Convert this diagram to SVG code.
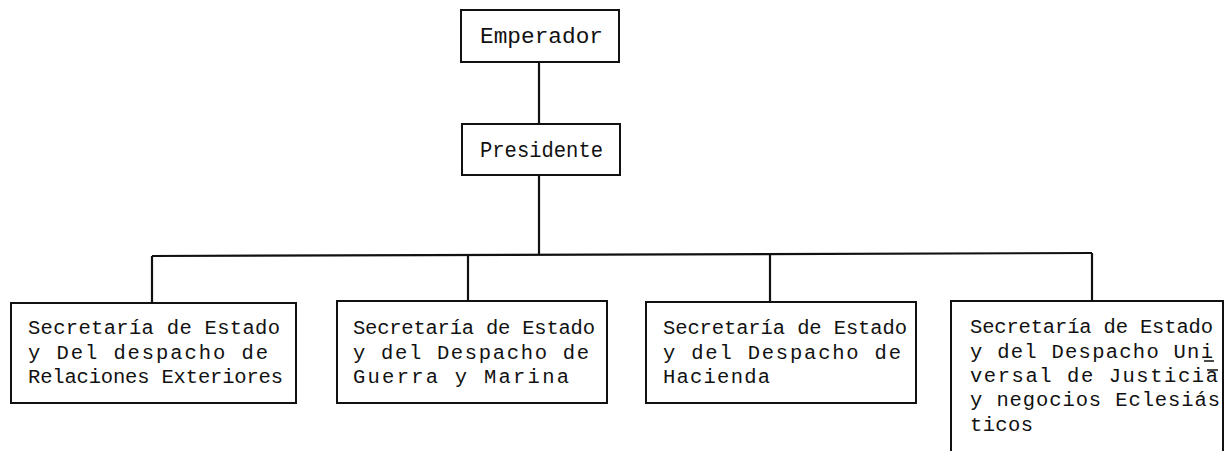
<svg xmlns="http://www.w3.org/2000/svg" width="1228" height="451" viewBox="0 0 1228 451">
<style>
.box{fill:#fff;stroke:#111;stroke-width:2}
.t{font-family:"Liberation Mono","DejaVu Sans Mono",monospace;font-size:20.5px;fill:#111}
.tt{font-family:"Liberation Mono","DejaVu Sans Mono",monospace;font-size:22.5px;fill:#111}
.c{stroke:#111;stroke-width:2.2;fill:none}
.m{stroke:#111;stroke-width:1.6}
</style>
<rect width="1228" height="451" fill="#fff"/>
<g id="connectors">
<path class="c" d="M539 62V124"/>
<path class="c" d="M539 175V254"/>
<path class="c" d="M152 256L1092 253"/>
<path class="c" d="M152 256V303"/>
<path class="c" d="M468 255V301"/>
<path class="c" d="M770 254V302"/>
<path class="c" d="M1092 253V301"/>
</g>
<g id="emperador">
<rect class="box" x="461" y="10" width="158" height="52"/>
<text class="tt" x="480" y="43" textLength="123" lengthAdjust="spacingAndGlyphs">Emperador</text>
</g>
<g id="presidente">
<rect class="box" x="462" y="124" width="158" height="51"/>
<text class="tt" x="480" y="157" textLength="123" lengthAdjust="spacingAndGlyphs">Presidente</text>
</g>
<g id="relaciones">
<rect class="box" x="11" y="303" width="285" height="100"/>
<text class="t" x="28" y="334" textLength="252">Secretaría de Estado</text>
<text class="t" x="28" y="359" textLength="240">y Del despacho de</text>
<text class="t" x="28" y="383" textLength="255">Relaciones Exteriores</text>
</g>
<g id="guerra">
<rect class="box" x="337" y="301" width="270" height="102"/>
<text class="t" x="353" y="334" textLength="242">Secretaría de Estado</text>
<text class="t" x="353" y="359" textLength="236">y del Despacho de</text>
<text class="t" x="353" y="383" textLength="216">Guerra y Marina</text>
</g>
<g id="hacienda">
<rect class="box" x="646" y="302" width="270" height="101"/>
<text class="t" x="663" y="334" textLength="244">Secretaría de Estado</text>
<text class="t" x="663" y="359" textLength="238">y del Despacho de</text>
<text class="t" x="663" y="383" textLength="107">Hacienda</text>
</g>
<g id="justicia">
<rect class="box" x="951" y="301" width="272" height="160"/>
<text class="t" x="970" y="333" textLength="243">Secretaría de Estado</text>
<text class="t" x="970" y="358" textLength="243">y del Despacho Uni</text>
<text class="t" x="970" y="382" textLength="248">versal de Justicia</text>
<text class="t" x="970" y="406" textLength="250">y negocios Eclesiás</text>
<text class="t" x="970" y="431" textLength="63">ticos</text>
<path class="m" d="M1204 361H1214M1207 370H1218"/>
</g>
</svg>
